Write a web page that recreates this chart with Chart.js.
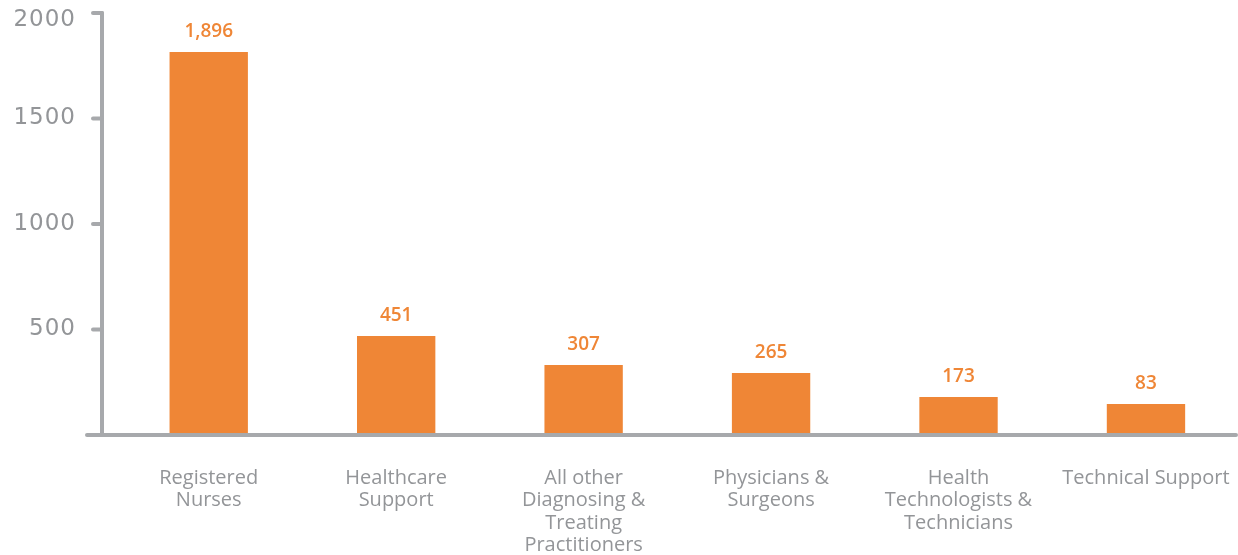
<!DOCTYPE html>
<html>
<head>
<meta charset="utf-8">
<script src="https://cdn.jsdelivr.net/npm/chart.js@4/dist/chart.umd.min.js"></script>
<style>
  html, body { margin: 0; padding: 0; background: #fff; overflow: hidden; }
  canvas { display: block; }
</style>
</head>
<body>
<canvas id="chart" width="1262" height="555"></canvas>
<script>
// categories (multi-line labels as shown under the bars)
const categories = [
  ['Registered', 'Nurses'],
  ['Healthcare', 'Support'],
  ['All other', 'Diagnosing &', 'Treating', 'Practitioners'],
  ['Physicians &', 'Surgeons'],
  ['Health', 'Technologists &', 'Technicians'],
  ['Technical Support']
];
// bar heights as drawn in the picture
const barValues = [1815, 469, 332, 294, 180, 147];
// value labels printed above the bars
const valueLabels = ['1,896', '451', '307', '265', '173', '83'];
// y axis ticks
const yTicks = [500, 1000, 1500, 2000];

const ORANGE = '#ef8636';
const AXIS = '#a7a9ac';
const TEXT = '#939598';
const FONT = '"Open Sans", "Liberation Sans", sans-serif';
const WIDE = '"DejaVu Sans", sans-serif';

// draws axis lines, y tick marks / labels and the value labels
const decorations = {
  id: 'decorations',
  afterDatasetsDraw(chart) {
    const ctx = chart.ctx;
    const y = chart.scales.y;
    const area = chart.chartArea;
    const axisX = area.left - 13;
    const zeroY = y.getPixelForValue(0);

    ctx.save();
    ctx.strokeStyle = AXIS;
    ctx.lineWidth = 4;
    ctx.lineCap = 'round';

    // y axis line
    ctx.beginPath();
    ctx.moveTo(axisX, y.getPixelForValue(yTicks[yTicks.length - 1]));
    ctx.lineTo(axisX, zeroY);
    ctx.stroke();

    // tick marks
    yTicks.forEach(v => {
      const py = y.getPixelForValue(v);
      ctx.beginPath();
      ctx.moveTo(axisX - 9, py);
      ctx.lineTo(axisX, py);
      ctx.stroke();
    });

    // x axis line
    ctx.beginPath();
    ctx.moveTo(axisX - 15, zeroY);
    ctx.lineTo(1236, zeroY);
    ctx.stroke();

    // y tick labels
    ctx.fillStyle = TEXT;
    ctx.font = '23px ' + WIDE;
    ctx.letterSpacing = '1px';
    ctx.textAlign = 'right';
    ctx.textBaseline = 'middle';
    yTicks.forEach(v => {
      const py = Math.max(y.getPixelForValue(v), 20);
      ctx.fillText(String(v), axisX - 26, py);
    });
    ctx.letterSpacing = '0px';

    // value labels above bars
    ctx.fillStyle = ORANGE;
    ctx.font = '600 19px ' + FONT;
    ctx.textAlign = 'center';
    chart.getDatasetMeta(0).data.forEach((bar, i) => {
      ctx.fillText(valueLabels[i], bar.x, bar.y - 20);
    });
    ctx.restore();
  }
};

new Chart(document.getElementById('chart'), {
  type: 'bar',
  data: {
    labels: categories,
    datasets: [{
      data: barValues,
      backgroundColor: ORANGE,
      borderWidth: 0,
      barPercentage: 0.418,
      categoryPercentage: 1.0
    }]
  },
  options: {
    responsive: false,
    animation: false,
    layout: { padding: { top: 13, right: 4, left: 0, bottom: 0 } },
    plugins: {
      legend: { display: false },
      tooltip: { enabled: false }
    },
    scales: {
      x: {
        offset: true,
        grid: { display: false, drawTicks: false },
        border: { display: false },
        ticks: {
          color: TEXT,
          font: { family: FONT, size: 20, weight: 500, lineHeight: 1.12 },
          padding: 32,
          autoSkip: false,
          maxRotation: 0
        },
        afterFit(scale) { scale.height = 120; }
      },
      y: {
        min: 0,
        max: 2000,
        grid: { display: false, drawTicks: false },
        border: { display: false },
        ticks: { display: false, stepSize: 500 },
        afterFit(scale) { scale.width = 115; }
      }
    }
  },
  plugins: [decorations]
});
</script>
</body>
</html>
